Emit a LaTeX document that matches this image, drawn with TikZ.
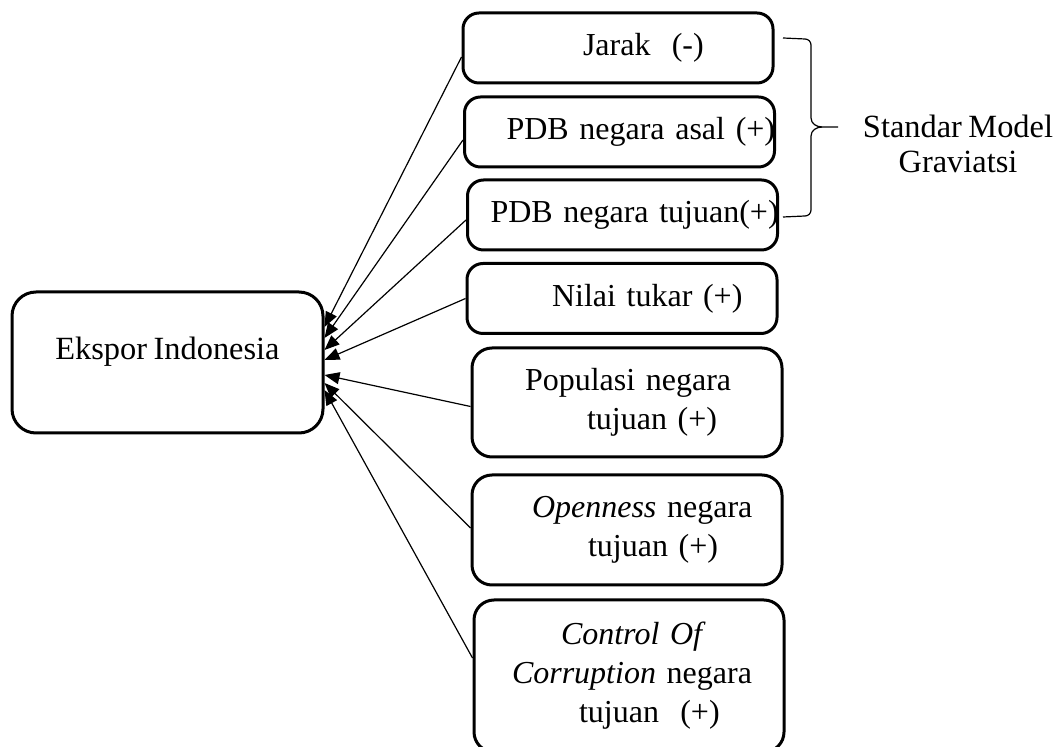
\documentclass[tikz,border=0pt]{standalone}
\usepackage{fontspec}
\setmainfont[WordSpace=0.8]{Liberation Serif}
\usetikzlibrary{arrows.meta}

\begin{document}
\begin{tikzpicture}[x=0.5pt,y=-0.5pt,
        factor/.style={draw,line width=1.5pt,rounded corners=8pt,minimum width=155pt,
            minimum height=35pt,text width=155pt,inner xsep=0pt,inner ysep=0pt,align=left,
            font=\fontsize{16pt}{19.5pt}\selectfont},
        target/.style={draw,line width=1.5pt,rounded corners=12pt,minimum width=155.5pt,
            minimum height=70.5pt,inner sep=0pt,text height=10.5pt,text depth=13pt,
            font=\fontsize{16.2pt}{19.5pt}\selectfont},
        link/.style={line width=0.6pt,-{Triangle[length=7.5pt,width=6pt]}}]

        \useasboundingbox (0,0) rectangle (1060,747);

        \node[target] (ekspor) at (167.5,362.5) {Ekspor Indonesia};

        \node[factor] (jarak) at (618,48) {\hspace*{60pt}\mbox{Jarak\ \ (-)}};
        \node[factor] (asal) at (619.5,132) {\hspace*{21pt}\mbox{PDB negara asal (+)}};
        \node[factor] (tujuan) at (622.5,215) {\hspace*{11.5pt}\mbox{PDB negara tujuan(+)}};
        \node[factor] (kurs) at (622,298.5) {\hspace*{42.5pt}\mbox{Nilai tukar (+)}};
        \node[factor,minimum height=54.5pt,rounded corners=10pt] (populasi) at (627,402.5)
            {\hspace*{26.5pt}\mbox{Populasi negara}\\\hspace*{57.5pt}\mbox{tujuan (+)}};
        \node[factor,minimum height=55pt,rounded corners=10pt] (openness) at (627,530)
            {\hspace*{30pt}\mbox{\textit{Openness} negara}\\\hspace*{58pt}\mbox{tujuan (+)}};
        \node[factor,minimum height=76pt,rounded corners=10pt] (korupsi) at (629,676)
            {\hspace*{43.5pt}\mbox{\textit{Control Of}}\\\hspace*{19pt}\mbox{\textit{Corruption} negara}\\\hspace*{52.5pt}\mbox{tujuan\ \ (+)}};

        \draw[link] ([yshift=-4.5pt]jarak.west) -- ([yshift=17.75pt]ekspor.east);
        \draw[link] ([yshift=-4pt]asal.west) -- ([yshift=12.25pt]ekspor.east);
        \draw[link] ([yshift=-2.5pt]tujuan.west) -- ([yshift=6.25pt]ekspor.east);
        \draw[link] (kurs.west) -- ([yshift=1.25pt]ekspor.east);
        \draw[link] ([yshift=-2pt]populasi.west) -- ([yshift=-6.25pt]ekspor.east);
        \draw[link] ([yshift=1pt]openness.west) -- ([yshift=-10.25pt]ekspor.east);
        \draw[link] ([yshift=9pt]korupsi.west) -- ([yshift=-13.75pt]ekspor.east);

        % brace
        \draw[line width=0.6pt] (783,38) -- (805,39) to[out=0,in=90] (811,45) -- (811,118)
            to[out=-90,in=180] (822,127) -- (838,127);
        \draw[line width=0.6pt] (822,127) to[out=180,in=90] (811,136) -- (811,210)
            to[out=-90,in=0] (805,216) -- (783,217);

        \node[align=center,inner sep=0pt,font=\fontsize{16.2pt}{17.5pt}\selectfont] (grav)
            at (958,143.5) {Standar Model\\Graviatsi};
    \end{tikzpicture}
\end{document}
